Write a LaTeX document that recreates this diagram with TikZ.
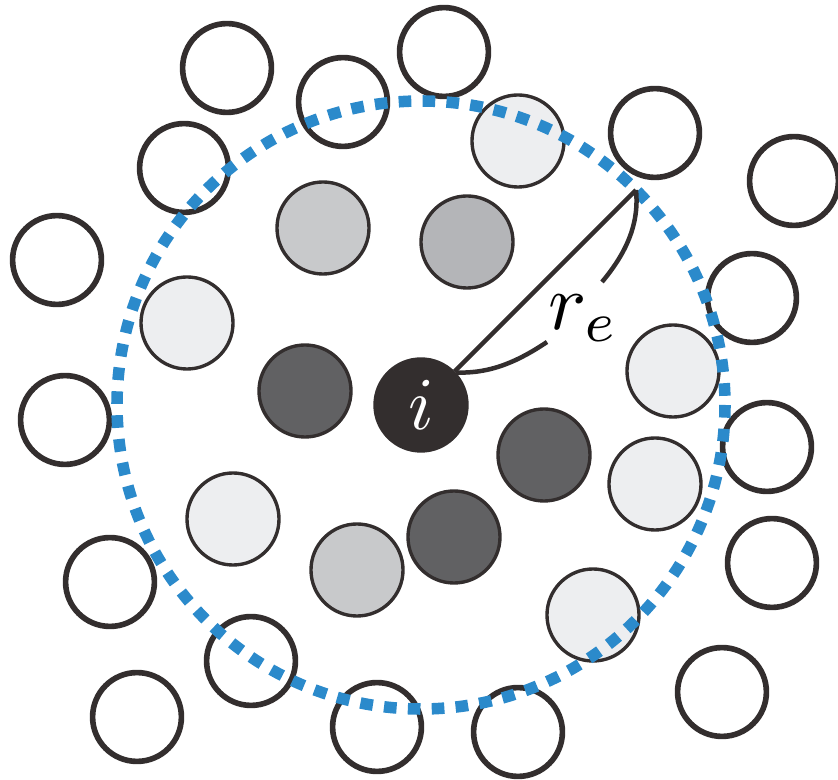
\documentclass[tikz,border=0pt]{standalone}
\usepackage{graphicx}
\usetikzlibrary{calc}
\definecolor{ballInk}{RGB}{51,46,46}
\definecolor{paleFill}{RGB}{237,238,240}
\definecolor{greyFill}{RGB}{200,201,203}
\definecolor{greyFillB}{RGB}{180,181,184}
\definecolor{darkFill}{RGB}{97,97,99}
\definecolor{ringBlue}{RGB}{43,138,203}
\newcommand{\bigmath}[2]{\scalebox{#1}{$#2$}}
\tikzset{
  ball/.style={circle, draw=ballInk, inner sep=0pt, minimum size=2.3cm, line width=2.4pt},
  emptyball/.style={ball, minimum size=2.22cm, line width=4pt},
  paleball/.style={ball, fill=paleFill},
  greyball/.style={ball, fill=greyFill},
  greyballB/.style={ball, fill=greyFillB},
  darkball/.style={ball, fill=darkFill},
  centreball/.style={ball, fill=ballInk, text=white},
  cutoff/.style={draw=ringBlue, line width=8.2pt, dash pattern=on 9pt off 8pt},
  reline/.style={draw=ballInk, line width=3.2pt},
  relabel/.style={fill=white, inner sep=3pt}
}
\begin{document}
\begin{tikzpicture}[x=0.025cm, y=-0.025cm]
        \useasboundingbox (0,0) rectangle (838,780);
        \node[emptyball] (o1) at (227,68) {};
        \node[emptyball] (o2) at (343,102) {};
        \node[emptyball] (o3) at (184,168) {};
        \node[emptyball] (o4) at (57,260) {};
        \node[emptyball] (o5) at (444,52) {};
        \node[emptyball] (o6) at (655,133) {};
        \node[emptyball] (o7) at (794,181) {};
        \node[emptyball] (o8) at (752,298) {};
        \node[emptyball] (o9) at (65,420) {};
        \node[emptyball] (o10) at (767,447) {};
        \node[emptyball] (o11) at (110,582) {};
        \node[emptyball] (o12) at (251,661) {};
        \node[emptyball] (o13) at (137,717) {};
        \node[emptyball] (o14) at (377,727) {};
        \node[emptyball] (o15) at (772,563) {};
        \node[emptyball] (o16) at (722,692) {};
        \node[emptyball] (o17) at (518,732) {};
        \node[paleball] (p1) at (518,141) {};
        \node[paleball] (p2) at (187,323) {};
        \node[paleball] (p3) at (673,371) {};
        \node[paleball] (p4) at (233,519) {};
        \node[paleball] (p5) at (655,484) {};
        \node[paleball] (p6) at (593,615) {};
        \node[greyball] (g1) at (323,228) {};
        \node[greyballB] (g2) at (467,242) {};
        \node[greyball] (g3) at (357,570) {};
        \node[darkball] (d1) at (305,391) {};
        \node[darkball] (d2) at (544,455) {};
        \node[darkball] (d3) at (454,537) {};
        \node[centreball] (i) at (421,405) {\bigmath{5.3}{i}};
        \draw[cutoff] (i.center) circle (304);
        \coordinate (rim) at ($(421,405)+(-45:304)$);
        \coordinate (braceA) at (602,282);
        \coordinate (braceB) at (547,342);
        \node[relabel] (re) at (584,318) {\bigmath{5.7}{r_e}};
        \draw[reline] (i) -- (rim);
        \draw[reline] (rim) .. controls (640,228) and (622,258) .. (braceA);
        \draw[reline] (i.43) .. controls (492,374) and (520,360) .. (braceB);
      \end{tikzpicture}
\end{document}
